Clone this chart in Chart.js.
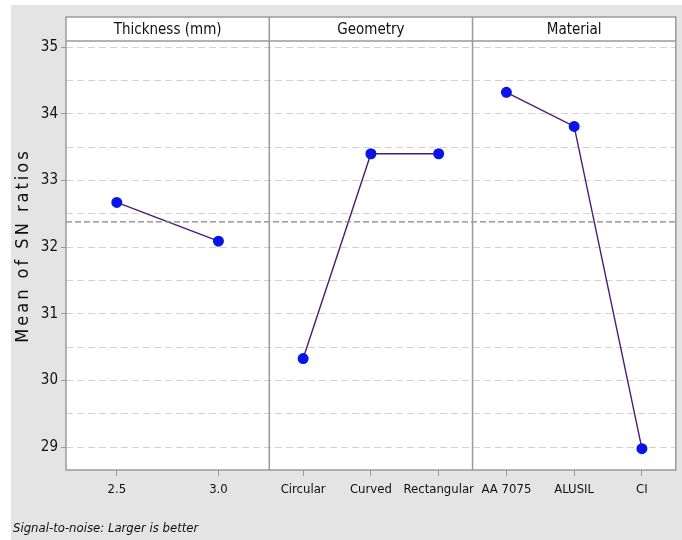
<!DOCTYPE html>
<html>
<head>
<meta charset="utf-8">
<script src="https://cdn.jsdelivr.net/npm/chart.js@4/dist/chart.umd.min.js"></script>
<style>
  body { margin: 0; background: #fff; }
  #wrap { position: absolute; left: 11px; top: 5px; width: 671px; height: 535px; background: #e4e4e4; }
  #note { position: absolute; left: 2px; top: 515px; font: italic 13px 'Liberation Sans Narrow', 'DejaVu Sans Condensed', sans-serif; color: #111; }
</style>
</head>
<body>
<div id="wrap">
  <canvas id="myChart" width="671" height="535"></canvas>
  <div id="note">Signal-to-noise: Larger is better</div>
</div>
<script>
// factor names (panel headers)
var factors = ['Thickness (mm)', 'Geometry', 'Material'];
// levels of each factor
var thicknessLevels = ['2.5', '3.0'];
var geometryLevels = ['Circular', 'Curved', 'Rectangular'];
var materialLevels = ['AA 7075', 'ALUSIL', 'CI'];
// mean of SN ratios for each level
var thicknessSN = [32.67, 32.09];
var geometrySN = [30.33, 33.40, 33.40];
var materialSN = [34.32, 33.81, 28.98];

var levels = [thicknessLevels, geometryLevels, materialLevels];
var values = [thicknessSN, geometrySN, materialSN];

// put each level in the middle of its slot inside its panel
function panelPoints(p) {
    var n = levels[p].length;
    return values[p].map(function (v, i) {
        return { x: p + (i + 0.5) / n, y: v };
    });
}

var tickPos = [], tickLabels = [];
levels.forEach(function (lv, p) {
    lv.forEach(function (name, i) {
        tickPos.push(p + (i + 0.5) / lv.length);
        tickLabels.push(name);
    });
});

// grand mean (same for every factor)
var grand = thicknessSN.reduce(function (a, b) { return a + b; }, 0) / thicknessSN.length;

var font = "'Liberation Sans Narrow', 'DejaVu Sans Condensed', sans-serif";

// frame, panel dividers, header strip and y title
var panels = {
    id: 'panels',
    beforeDraw: function (chart) {
        var a = chart.chartArea, ctx = chart.ctx;
        ctx.save();
        ctx.fillStyle = '#fff';
        ctx.fillRect(a.left, a.top, a.right - a.left, a.bottom - a.top);
        ctx.fillRect(a.left, 12, a.right - a.left, a.top - 12);
        ctx.restore();
    },
    afterDraw: function (chart) {
        var a = chart.chartArea, ctx = chart.ctx, x = chart.scales.x;
        ctx.save();
        ctx.strokeStyle = '#9a9a9a';
        ctx.lineWidth = 1.5;
        ctx.strokeRect(a.left, 12, a.right - a.left, a.bottom - 12);
        ctx.beginPath();
        ctx.moveTo(a.left, a.top);
        ctx.lineTo(a.right, a.top);
        for (var p = 1; p < factors.length; p++) {
            var px = x.getPixelForValue(p);
            ctx.moveTo(px, 12);
            ctx.lineTo(px, a.bottom);
        }
        ctx.stroke();
        ctx.fillStyle = '#111';
        ctx.font = '15px ' + font;
        ctx.textAlign = 'center';
        ctx.textBaseline = 'middle';
        factors.forEach(function (f, p) {
            var cx = (x.getPixelForValue(p) + x.getPixelForValue(p + 1)) / 2;
            ctx.fillText(f, cx, (12 + a.top) / 2 + 1);
        });
        // y axis title
        ctx.translate(12, (a.top + a.bottom) / 2 - 10);
        ctx.rotate(-Math.PI / 2);
        ctx.font = '18px ' + font;
        ctx.letterSpacing = '3px';
        ctx.fillText('Mean of SN ratios', 0, 0);
        ctx.restore();
    }
};

var datasets = [{
    data: [{ x: 0, y: grand }, { x: 3, y: grand }],
    borderColor: '#858585',
    borderWidth: 1.3,
    borderDash: [6, 3],
    pointRadius: 0,
    showLine: true
}];
factors.forEach(function (f, p) {
    datasets.push({
        label: f,
        data: panelPoints(p),
        showLine: true,
        borderColor: '#4a1a78',
        borderWidth: 1.4,
        pointBackgroundColor: '#0a14e6',
        pointBorderColor: '#0a14e6',
        pointRadius: 4.8
    });
});

var ctx = document.getElementById('myChart').getContext('2d');
var myChart = new Chart(ctx, {
    type: 'scatter',
    data: { datasets: datasets },
    options: {
        responsive: false,
        animation: false,
        layout: { padding: { top: 36, right: 5, left: 0, bottom: 0 } },
        plugins: { legend: { display: false }, tooltip: { enabled: false } },
        scales: {
            x: {
                type: 'linear',
                min: 0,
                max: 3,
                afterFit: function (s) { s.height = 70; },
                afterBuildTicks: function (s) {
                    s.ticks = tickPos.map(function (v) { return { value: v }; });
                },
                ticks: {
                    autoSkip: false,
                    maxRotation: 0,
                    padding: 6,
                    color: '#111',
                    font: { family: font, size: 13 },
                    callback: function (v, i) { return tickLabels[i]; }
                },
                grid: { drawOnChartArea: false, tickLength: 6, color: '#9a9a9a' },
                border: { display: false }
            },
            y: {
                min: 28.66,
                max: 35.09,
                afterFit: function (s) { s.width = 55; },
                ticks: {
                    stepSize: 0.5,
                    includeBounds: false,
                    padding: 3,
                    color: '#111',
                    font: { family: font, size: 15 },
                    callback: function (v) { return v % 1 === 0 ? v : ''; }
                },
                grid: {
                    color: '#d2d2d2',
                    tickLength: 5,
                    tickColor: function (c) { return c.tick && c.tick.value % 1 === 0 ? '#9a9a9a' : 'rgba(0,0,0,0)'; }
                },
                border: { display: false, dash: [7, 4] }
            }
        }
    },
    plugins: [panels]
});
</script>
</body>
</html>
